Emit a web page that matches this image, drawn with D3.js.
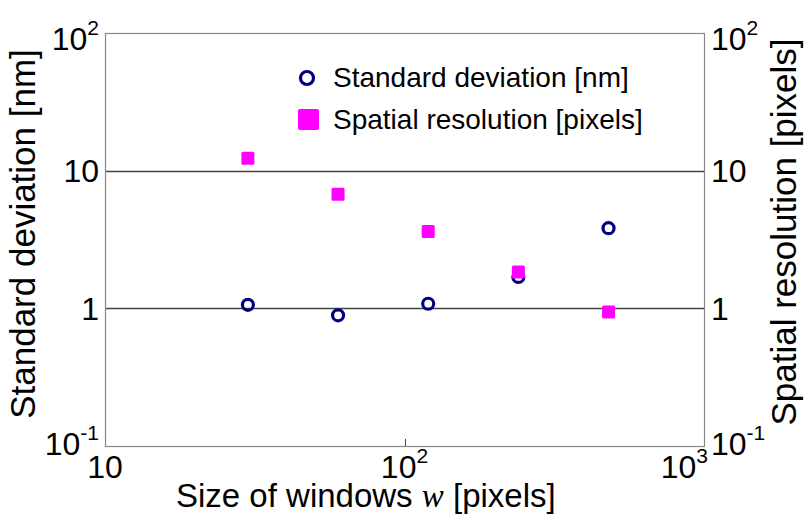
<!DOCTYPE html>
<html><head><meta charset="utf-8">
<script src="https://cdn.jsdelivr.net/npm/d3@7"></script>
<style>body{margin:0;background:#fff}svg{display:block}text{font-family:"Liberation Sans",Arial,sans-serif;fill:#000}</style>
</head><body><svg id="c" width="804" height="514"></svg>
<script>
const windowSizes = [30, 60, 120, 240, 480];
const stdDev = [1.06, 0.89, 1.08, 1.69, 3.82];
const spatialRes = [12.3, 6.74, 3.61, 1.84, 0.94];
const xTickExp = [1, 2, 3];
const yTickExp = [-1, 0, 1, 2];
const seriesNames = ["Standard deviation [nm]", "Spatial resolution [pixels]"];

const svg = d3.select("#c");
const L = 105, R = 704, T = 33, B = 446;
const x = d3.scaleLog().domain([10, 1000]).range([L, R]);
const y = d3.scaleLog().domain([0.1, 100]).range([B, T]);

// grid lines at 1 and 10
svg.append("g").selectAll("line").data([1, 10]).join("line")
  .attr("x1", L).attr("x2", R)
  .attr("y1", d => Math.round(y(d)) + 0.5).attr("y2", d => Math.round(y(d)) + 0.5)
  .attr("stroke", "#444").attr("stroke-width", 1.4);

// box
svg.append("rect").attr("x", L + 0.5).attr("y", T + 0.5).attr("width", R - L).attr("height", B - T)
  .attr("fill", "none").attr("stroke", "#888").attr("stroke-width", 1.2);

// x tick at 10^2
svg.append("line").attr("x1", Math.round(x(100)) + 0.5).attr("x2", Math.round(x(100)) + 0.5)
  .attr("y1", B).attr("y2", B - 7).attr("stroke", "#444");

function powLabel(g, e, xp, yp, anchor) {
  const t = g.append("text").attr("x", xp).attr("y", yp).attr("text-anchor", anchor).style("font-size", "32px");
  if (e === 0) { t.text("1"); return t; }
  if (e === 1) { t.text("10"); return t; }
  t.append("tspan").text("10");
  t.append("tspan").attr("dy", -15).style("font-size", "21px").text(String(e));
  return t;
}

function yLabelBase(e) {
  const ty = y(Math.pow(10, e));
  if (e === 2) return ty + 17;
  if (e === -1) return ty + 9;
  return ty + 11.5;
}

const gl = svg.append("g");
yTickExp.forEach(e => powLabel(gl, e, 99, yLabelBase(e), "end"));
const gr = svg.append("g");
yTickExp.forEach(e => powLabel(gr, e, 711, yLabelBase(e), "start"));
const gx = svg.append("g");
xTickExp.forEach(e => {
  const px = x(Math.pow(10, e));
  if (e === 3) powLabel(gx, e, px + 4, 478, "end");
  else powLabel(gx, e, px, 478, "middle");
});

// axis titles
svg.append("text").attr("transform", `translate(35,234) rotate(-90)`)
  .attr("text-anchor", "middle").style("font-size", "35px").text("Standard deviation [nm]");
svg.append("text").attr("transform", `translate(796,232) rotate(-90)`)
  .attr("text-anchor", "middle").style("font-size", "35px").text("Spatial resolution [pixels]");
const xt = svg.append("text").attr("x", 176).attr("y", 507).style("font-size", "33px");
xt.append("tspan").text("Size of windows ");
xt.append("tspan").style("font-family", "'Liberation Serif','Times New Roman',serif").style("font-style", "italic").text("w");
xt.append("tspan").text(" [pixels]");

// data
svg.append("g").selectAll("circle").data(windowSizes).join("circle")
  .attr("cx", (d) => x(d)).attr("cy", (d, i) => y(stdDev[i])).attr("r", 5.5)
  .attr("fill", "none").attr("stroke", "#000080").attr("stroke-width", 3.2);
svg.append("g").selectAll("rect").data(windowSizes).join("rect")
  .attr("x", d => x(d) - 6.5).attr("y", (d, i) => y(spatialRes[i]) - 6.5)
  .attr("width", 13).attr("height", 13).attr("rx", 1.5).attr("fill", "#ff00ff");

// legend
const lg = svg.append("g");
lg.append("circle").attr("cx", 307).attr("cy", 78).attr("r", 6.5).attr("fill", "none")
  .attr("stroke", "#000080").attr("stroke-width", 3.2);
lg.append("text").attr("x", 333).attr("y", 87).style("font-size", "28px").text(seriesNames[0]);
lg.append("rect").attr("x", 298).attr("y", 109).attr("width", 21).attr("height", 21).attr("rx", 2).attr("fill", "#ff00ff");
lg.append("text").attr("x", 333).attr("y", 129).style("font-size", "28px").text(seriesNames[1]);
</script></body></html>
